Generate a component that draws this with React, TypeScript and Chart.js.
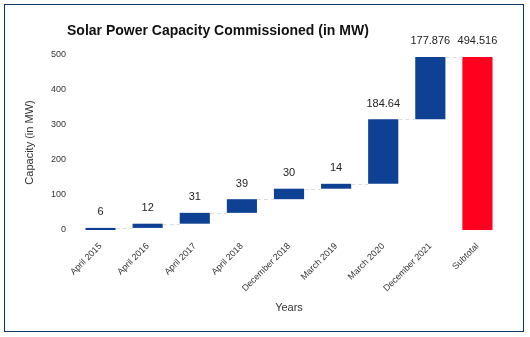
import React, { useEffect, useRef } from 'react';
import { Chart, registerables } from 'chart.js';

Chart.register(...registerables);

const categories = ['April 2015', 'April 2016', 'April 2017', 'April 2018', 'December 2018', 'March 2019', 'March 2020', 'December 2021', 'Subtotal'];
const increments = [6, 12, 31, 39, 30, 14, 184.64, 177.876];
const subtotal = 494.516;
const valueLabels = ['6', '12', '31', '39', '30', '14', '184.64', '177.876', '494.516'];
const yTicks = [0, 100, 200, 300, 400, 500];

const BLUE = '#0e4094';
const RED = '#ff001f';
const FONT = '"Liberation Sans", Arial, sans-serif';

export default function App() {
  const ref = useRef<HTMLCanvasElement | null>(null);

  useEffect(() => {
    if (!ref.current) return;
    const floating: [number, number][] = [];
    let run = 0;
    increments.forEach((v) => {
      floating.push([run, run + v]);
      run += v;
    });
    floating.push([0, subtotal]);
    const colors = categories.map((_, i) => (i === categories.length - 1 ? RED : BLUE));

    const overlay = {
      id: 'overlay',
      afterDatasetsDraw(chart: any) {
        const ctx = chart.ctx;
        const meta = chart.getDatasetMeta(0);
        const yScale = chart.scales.y;
        ctx.save();
        // connectors
        ctx.strokeStyle = '#dcdcdc';
        ctx.lineWidth = 1;
        ctx.setLineDash([4, 3]);
        for (let i = 0; i < meta.data.length - 1; i++) {
          const a = meta.data[i];
          const b = meta.data[i + 1];
          const level = floating[i][1];
          const yy = Math.round(yScale.getPixelForValue(level)) + 0.5;
          ctx.beginPath();
          ctx.moveTo(a.x + a.width / 2, yy);
          ctx.lineTo(b.x - b.width / 2, yy);
          ctx.stroke();
        }
        ctx.setLineDash([]);
        // value labels
        ctx.fillStyle = '#222';
        ctx.font = `11px ${FONT}`;
        ctx.textAlign = 'center';
        ctx.textBaseline = 'bottom';
        meta.data.forEach((el: any, i: number) => {
          const top = Math.min(el.y, el.base);
          ctx.fillText(valueLabels[i], el.x, top - 10);
        });
        ctx.restore();
      },
      afterDraw(chart: any) {
        const ctx = chart.ctx;
        ctx.save();
        ctx.fillStyle = '#111';
        ctx.font = `bold 14px ${FONT}`;
        ctx.textAlign = 'left';
        ctx.textBaseline = 'middle';
        ctx.fillText('Solar Power Capacity Commissioned (in MW)', chart.chartArea.left - 10, 26);
        ctx.restore();
      },
    };

    const chart = new Chart(ref.current, {
      type: 'bar',
      data: {
        labels: categories,
        datasets: [
          {
            data: floating as any,
            backgroundColor: colors,
            borderWidth: 0,
            barPercentage: 0.64,
            categoryPercentage: 1,
          },
        ],
      },
      options: {
        responsive: false,
        animation: false,
        layout: { padding: { left: 14, right: 22, top: 50, bottom: 12 } },
        plugins: {
          legend: { display: false },
          tooltip: { enabled: false },
          title: { display: false },
        },
        scales: {
          x: {
            grid: { display: false },
            border: { display: false },
            ticks: {
              color: '#333',
              font: { family: FONT, size: 9 },
              minRotation: 45,
              maxRotation: 45,
              autoSkip: false,
            },
            title: {
              display: true,
              text: 'Years',
              color: '#333',
              font: { family: FONT, size: 11 },
            },
            afterFit: (s: any) => {
              s.height = 89;
            },
          },
          y: {
            min: 0,
            max: 500,
            grid: { display: false },
            border: { display: false },
            afterBuildTicks: (s: any) => {
              s.ticks = yTicks.map((v) => ({ value: v }));
            },
            ticks: {
              color: '#333',
              font: { family: FONT, size: 9 },
            },
            title: {
              display: true,
              text: 'Capacity (in MW)',
              color: '#333',
              font: { family: FONT, size: 11 },
            },
            afterFit: (s: any) => {
              s.width = 58;
            },
          },
        },
      },
      plugins: [overlay],
    });
    return () => chart.destroy();
  }, []);

  return (
    <div
      style={{
        position: 'absolute',
        left: 4,
        top: 4,
        width: 520,
        height: 328,
        border: '1px solid #0d3566',
        boxSizing: 'border-box',
        background: '#fff',
      }}
    >
      <canvas ref={ref} width={518} height={326} style={{ display: 'block' }} />
    </div>
  );
}
